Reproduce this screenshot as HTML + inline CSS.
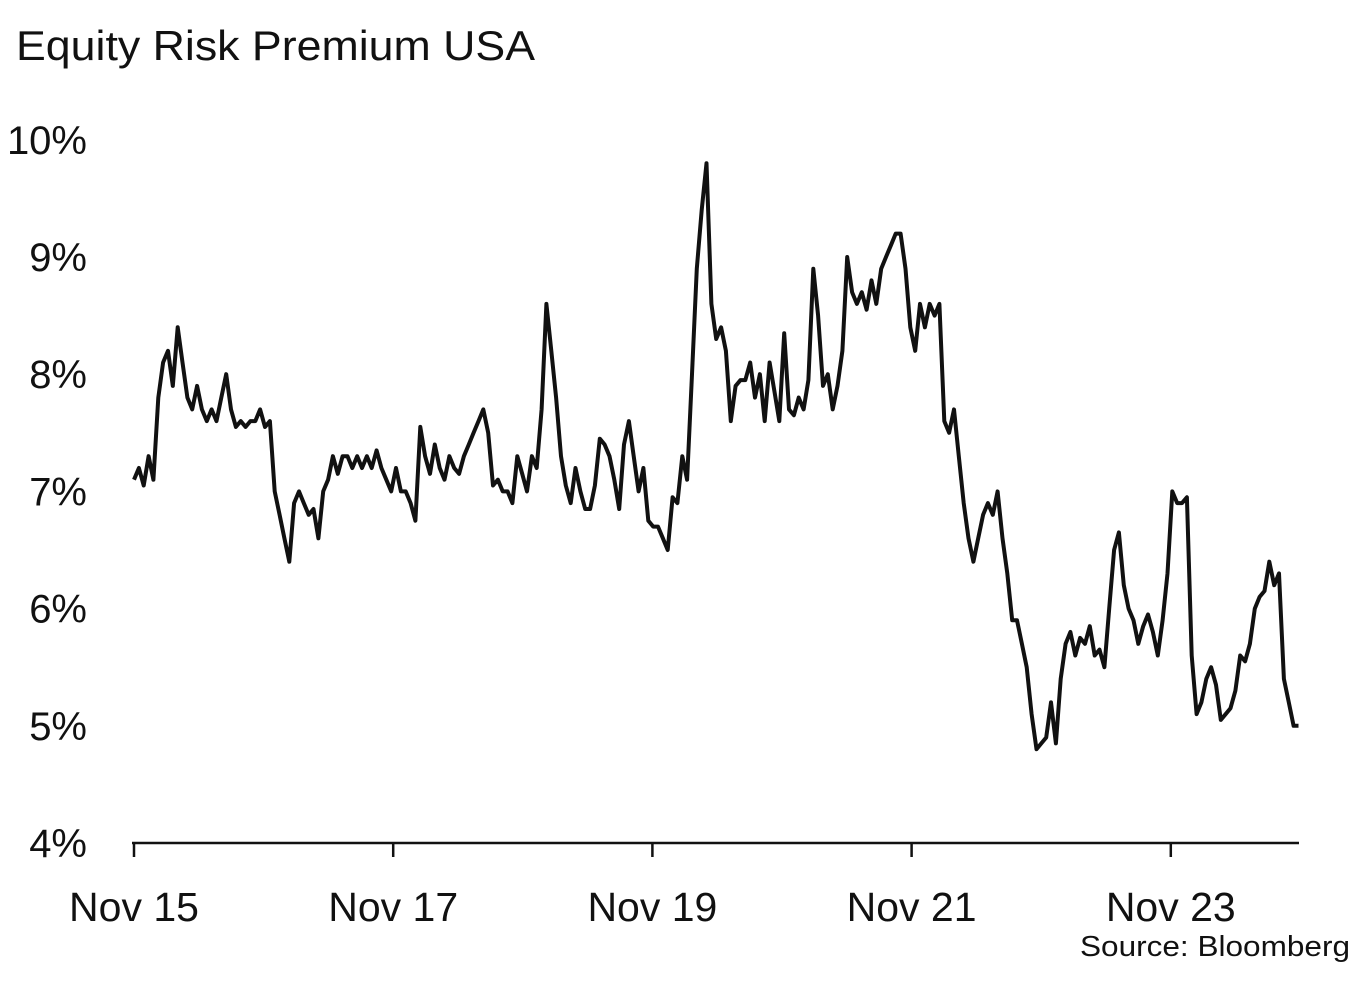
<!DOCTYPE html>
<html><head><meta charset="utf-8">
<style>
html,body{margin:0;padding:0;background:#fff;}
body{width:1365px;height:976px;overflow:hidden;font-family:"Liberation Sans",sans-serif;}
</style></head>
<body>
<svg id="chart" width="1365" height="976" xmlns="http://www.w3.org/2000/svg">
<text x="16" y="60" font-size="42" fill="#111" textLength="519" lengthAdjust="spacingAndGlyphs" font-family="Liberation Sans, sans-serif">Equity Risk Premium USA</text>
<g id="yaxis"></g>
<g id="xaxis"></g>
<path id="line" fill="none" stroke="#111" stroke-width="4" stroke-linejoin="round"></path>
<text x="1350" y="956" text-anchor="end" font-size="29" fill="#111" textLength="270" lengthAdjust="spacingAndGlyphs" font-family="Liberation Sans, sans-serif">Source: Bloomberg</text>
</svg>
<script>
const yTicks=[4,5,6,7,8,9,10];
const yTickLabels=["4%","5%","6%","7%","8%","9%","10%"];
const xTicks=[2015.875,2017.875,2019.875,2021.875,2023.875];
const xTickLabels=["Nov 15","Nov 17","Nov 19","Nov 21","Nov 23"];
const startDate=2015.875, endDate=2024.86;
const values=[7.1,7.2,7.05,7.3,7.1,7.8,8.1,8.2,7.9,8.4,8.1,7.8,7.7,7.9,7.7,7.6,7.7,7.6,7.8,8.0,7.7,7.55,7.6,7.55,7.6,7.6,7.7,7.55,7.6,7.0,6.8,6.6,6.4,6.9,7.0,6.9,6.8,6.85,6.6,7.0,7.1,7.3,7.15,7.3,7.3,7.2,7.3,7.2,7.3,7.2,7.35,7.2,7.1,7.0,7.2,7.0,7.0,6.9,6.75,7.55,7.3,7.15,7.4,7.2,7.1,7.3,7.2,7.15,7.3,7.4,7.5,7.6,7.7,7.5,7.05,7.1,7.0,7.0,6.9,7.3,7.15,7.0,7.3,7.2,7.7,8.6,8.2,7.8,7.3,7.05,6.9,7.2,7.0,6.85,6.85,7.05,7.45,7.4,7.3,7.1,6.85,7.4,7.6,7.3,7.0,7.2,6.75,6.7,6.7,6.6,6.5,6.95,6.9,7.3,7.1,8.0,8.9,9.4,9.8,8.6,8.3,8.4,8.2,7.6,7.9,7.95,7.95,8.1,7.8,8.0,7.6,8.1,7.85,7.6,8.35,7.7,7.65,7.8,7.7,7.95,8.9,8.5,7.9,8.0,7.7,7.9,8.2,9.0,8.7,8.6,8.7,8.55,8.8,8.6,8.9,9.0,9.1,9.2,9.2,8.9,8.4,8.2,8.6,8.4,8.6,8.5,8.6,7.6,7.5,7.7,7.3,6.9,6.6,6.4,6.6,6.8,6.9,6.8,7.0,6.6,6.3,5.9,5.9,5.7,5.5,5.1,4.8,4.85,4.9,5.2,4.85,5.4,5.7,5.8,5.6,5.75,5.7,5.85,5.6,5.65,5.5,6.0,6.5,6.65,6.2,6.0,5.9,5.7,5.85,5.95,5.8,5.6,5.9,6.3,7.0,6.9,6.9,6.95,5.6,5.1,5.2,5.4,5.5,5.35,5.05,5.1,5.15,5.3,5.6,5.55,5.7,6.0,6.1,6.15,6.4,6.2,6.3,5.4,5.2,5.0,5.0];

const NS="http://www.w3.org/2000/svg";
const X0=134,PXY=129.6;
function xs(t){return X0+(t-startDate)*PXY;}
function ys(v){return 843-(v-4)*117.2;}
const ya=document.getElementById('yaxis');
yTicks.forEach((v,i)=>{
  const t=document.createElementNS(NS,'text');
  
  
  t.setAttribute('x',87);t.setAttribute('y',ys(v)+14);
  t.setAttribute('text-anchor','end');t.setAttribute('font-size','40');t.setAttribute('fill','#111');
  t.textContent=yTickLabels[i];ya.appendChild(t);
});
const xa=document.getElementById('xaxis');
const ax=document.createElementNS(NS,'line');


ax.setAttribute('x1',132);ax.setAttribute('x2',1299);ax.setAttribute('y1',843);ax.setAttribute('y2',843);
ax.setAttribute('stroke','#111');ax.setAttribute('stroke-width','2.5');xa.appendChild(ax);
xTicks.forEach((d,i)=>{
  const x=xs(d);
  const l=document.createElementNS(NS,'line');
  
  
  l.setAttribute('x1',x);l.setAttribute('x2',x);l.setAttribute('y1',843);l.setAttribute('y2',857);
  l.setAttribute('stroke','#111');l.setAttribute('stroke-width','2.5');xa.appendChild(l);
  const t=document.createElementNS(NS,'text');
  
  
  t.setAttribute('x',x);t.setAttribute('y',921);t.setAttribute('text-anchor','middle');
  t.setAttribute('font-size','41');t.setAttribute('fill','#111');
  t.textContent=xTickLabels[i];xa.appendChild(t);
});
const n=values.length;
let d='';
values.forEach((v,i)=>{
  const t=startDate+(endDate-startDate)*i/(n-1);
  d+=(i?'L':'M')+xs(t).toFixed(1)+' '+ys(v).toFixed(1);
});
document.getElementById('line').setAttribute('d',d);
</script>
</body></html>
